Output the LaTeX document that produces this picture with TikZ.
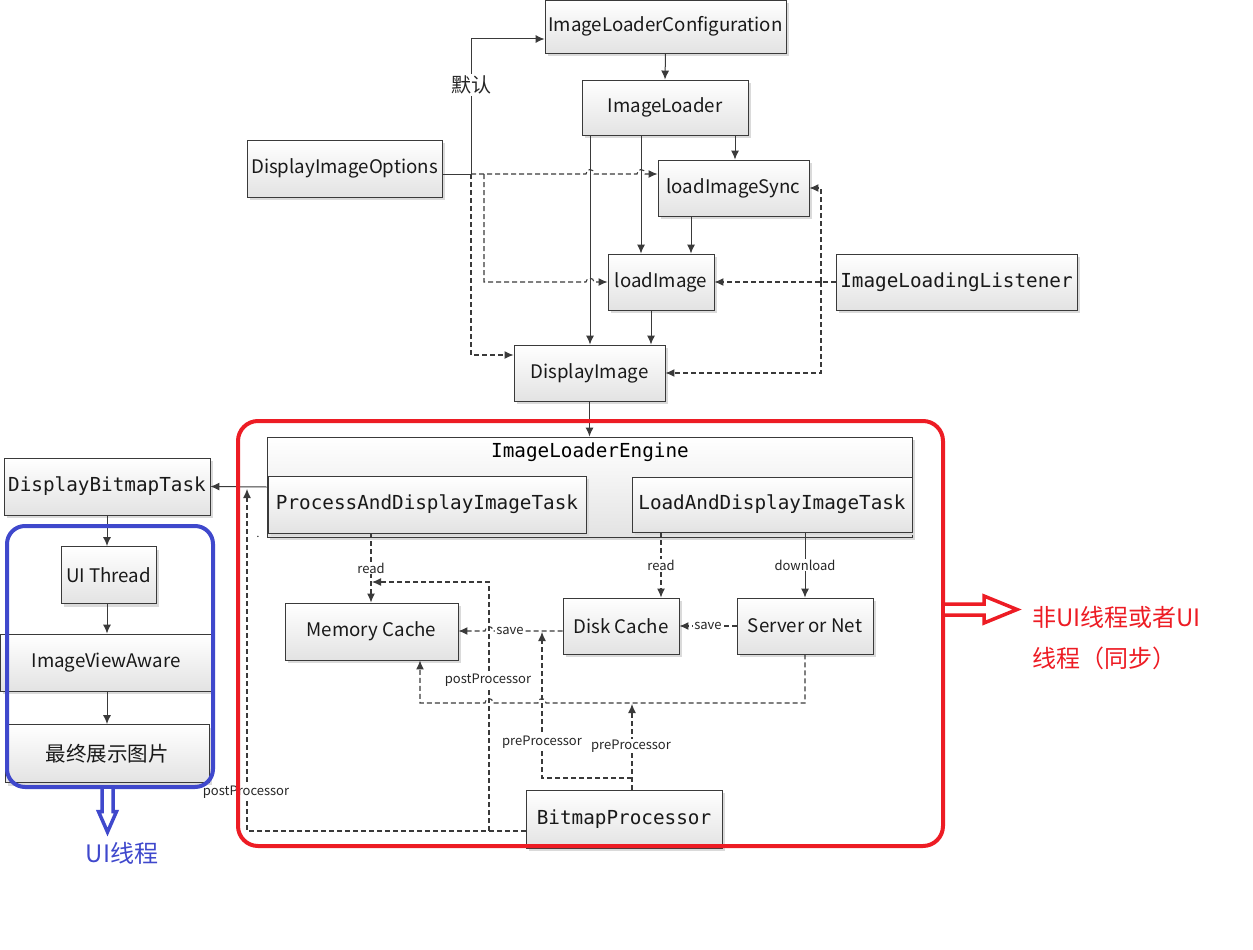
\documentclass[tikz,border=0pt]{standalone}
\usepackage{fontspec}
\setmainfont{Noto Sans CJK SC}
\newfontfamily\monofont{DejaVu Sans Mono}
\usetikzlibrary{arrows.meta,shadows}
\definecolor{linec}{HTML}{3A3A3A}
\definecolor{redc}{HTML}{ED1C24}
\definecolor{bluec}{HTML}{3F48CC}
\definecolor{shadowc}{HTML}{DADADA}
\tikzset{
  wh/.style 2 args={minimum width=#1pt, minimum height=#2pt},
  box/.style={draw=linec, line width=0.9pt, top color=white, bottom color=black!11,
    inner sep=0pt, text=black!90, font=\fontsize{18.7}{21}\selectfont,
    drop shadow={shadow xshift=3pt, shadow yshift=-3pt, fill=shadowc, opacity=1}},
  mbox/.style={box, font=\monofont\fontsize{19.3}{21}\selectfont},
  conn/.style={draw=linec, line width=1pt, -{Latex[length=9pt,width=8pt]}},
  dconn/.style={conn, line width=1.1pt, dash pattern=on 5pt off 3pt},
  lab/.style={fill=white, inner sep=1pt, text=black!85, font=\fontsize{13}{15}\selectfont},
  frame/.style={line width=4pt, rounded corners=20pt},
  hollow/.style={line width=3.5pt, fill=white, line join=miter},
  bigtext/.style={font=\fontsize{24}{26}\selectfont, inner sep=0pt},
}
\begin{document}
\begin{tikzpicture}[x=1pt,y=-1pt]
\useasboundingbox (0,0) rectangle (1253,950);

% ---------- top boxes ----------
\node[box, wh={241}{53}] (cfg) at (665.5,26.5) {ImageLoaderConfiguration};
\node[box, wh={166}{55}] (il) at (665,107.5) {ImageLoader};
\node[box, wh={195}{57}] (dio) at (344.5,168.5) {DisplayImageOptions};
\node[box, wh={151}{56}] (lis) at (733.5,188) {loadImageSync};
\node[box, wh={106}{56}] (li) at (661,282) {loadImage};
\node[mbox, wh={241}{56}] (ill) at (956.5,282) {ImageLoadingListener};
\node[box, wh={151}{56}] (di) at (589.5,373) {DisplayImage};

% ---------- engine ----------
\node[box, wh={645}{100}] (ile) at (589.5,487) {};
\node[inner sep=0pt, font=\monofont\fontsize{19.3}{21}\selectfont] (iletitle) at (590,452) {ImageLoaderEngine};
\node[mbox, wh={318}{57}] (padit) at (427,504.5) {ProcessAndDisplayImageTask};
\node[mbox, wh={280}{55}] (ladit) at (772,504.5) {LoadAndDisplayImageTask};

\node[box, wh={173}{57}] (mc) at (371.5,631.5) {Memory Cache};
\node[box, wh={116}{56}] (dc) at (621,626) {Disk Cache};
\node[box, wh={136}{56}] (sn) at (805,626) {Server or Net};
\node[mbox, wh={196}{58}] (bp) at (624,819) {BitmapProcessor};
\node[inner sep=0pt, font=\fontsize{10}{10}\selectfont] (dot) at (258,537) {.};

% ---------- left column ----------
\node[mbox, wh={206}{57}] (dbt) at (107,486.5) {DisplayBitmapTask};
\node[box, wh={95}{57}] (uit) at (108.5,575) {UI Thread};
\node[box, wh={212}{57}] (iva) at (106,662.5) {ImageViewAware};
\node[box, wh={204}{58}, font=\fontsize{20.5}{22}\selectfont] (final) at (107,753.5) {最终展示图片};

% ---------- top connectors ----------
\coordinate (jA) at (471,174);
\coordinate (jC) at (484,174);
\coordinate (jB) at (821,282);
\draw[conn] (dio.east |- jA) -- (jA) -- (471,39) -- (cfg.west |- 0,39);
\node[fill=white, inner sep=2pt, font=\fontsize{20}{22}\selectfont, text=black!85] (dflt) at (471,85) {默认};
\draw[conn] (cfg.south) -- (il.north);
\draw[conn] (il.south -| 735,0) -- (lis.north -| 735,0);
\draw[conn] (il.south -| 641,0) -- (li.north -| 641,0);
\draw[conn] (il.south -| 590,0) -- (di.north -| 590,0);
\draw[conn] (lis.south -| 691,0) -- (li.north -| 691,0);
\draw[conn] (li.south -| 651,0) -- (di.north -| 651,0);

\draw[dconn] (jA) -- (586,174) .. controls (586,168) and (594,168) .. (594,174)
  -- (637,174) .. controls (637,168) and (645,168) .. (645,174) -- (lis.west |- jA);
\draw[dconn] (jA) -- (471,355) -- (di.west |- 0,355);
\draw[dconn] (jC) -- (484,282) -- (586,282) .. controls (586,277) and (594,277) .. (594,282) -- (li.west);
\draw[dconn] (ill.west) -- (li.east);
\draw[dconn] (jB) -- (821,188) -- (lis.east);
\draw[dconn] (jB) -- (821,373) -- (di.east);

\draw[conn] (di.south) -- (ile.north);
\draw[conn] (ile.west) -- (dbt.east);

% ---------- left connectors ----------
\draw[conn] (dbt.south) -- (dbt.south |- uit.north);
\draw[conn] (uit.south -| dbt.south) -- (dbt.south |- iva.north);
\draw[conn] (iva.south -| dbt.south) -- (dbt.south |- final.north);

% ---------- engine connectors ----------
\coordinate (jD) at (489,831);
\coordinate (jE) at (632,778);
\draw[dconn] (padit.south -| 371,0) -- node[lab]{read} (mc.north -| 371,0);
\draw[dconn] (ladit.south -| 661,0) -- node[lab]{read} (dc.north -| 661,0);
\draw[conn] (ladit.south -| sn.north) -- node[lab]{download} (sn.north);
\draw[dconn] (sn.west) -- node[lab]{save} (dc.east);
\draw[dconn] (dc.west |- 0,631) -- (493,631) .. controls (493,625) and (485,625) .. (485,631) -- (mc.east |- 0,631);
\draw[dconn] (sn.south) -- (805,703) -- (546,703) .. controls (546,697) and (538,697) .. (538,703)
  -- (493,703) .. controls (493,697) and (485,697) .. (485,703) -- (420,703) -- (mc.south -| 420,0);
\draw[dconn] (bp.north -| jE) -- (632,704);
\draw[dconn] (jE) -- (542,778) -- (542,632);
\draw[dconn] (bp.west |- jD) -- (247,831) -- (247,489);
\draw[dconn] (jD) -- (489,582) -- (372,582);

\node[lab] (sv2) at (510,631) {save};
\node[lab] (pp1) at (488,680) {postProcessor};
\node[lab] (pre1) at (542,742) {preProcessor};
\node[lab] (pre2) at (631,746) {preProcessor};
\node[lab] (pp2) at (246,792) {postProcessor};

% ---------- frames ----------
\draw[redc, frame] (238,421) rectangle (943,846);
\draw[bluec, frame, rounded corners=18pt] (7,526) rectangle (213,787);

% hollow arrows
\draw[bluec, hollow] (102,789) -- (102,811.5) -- (98.5,811.5) -- (107.5,832) -- (116.5,811.5) -- (113,811.5) -- (113,789);
\node[bigtext, text=bluec] (uitext) at (122,853) {UI线程};
\draw[redc, hollow] (945,604) -- (984,604) -- (984,596) -- (1017,609.5) -- (984,623) -- (984,615) -- (945,615);
\node[bigtext, text=redc, anchor=west] (rt1) at (1032,617) {非UI线程或者UI};
\node[bigtext, text=redc, anchor=west] (rt2) at (1032,658) {线程（同步）};
\end{tikzpicture}
\end{document}
